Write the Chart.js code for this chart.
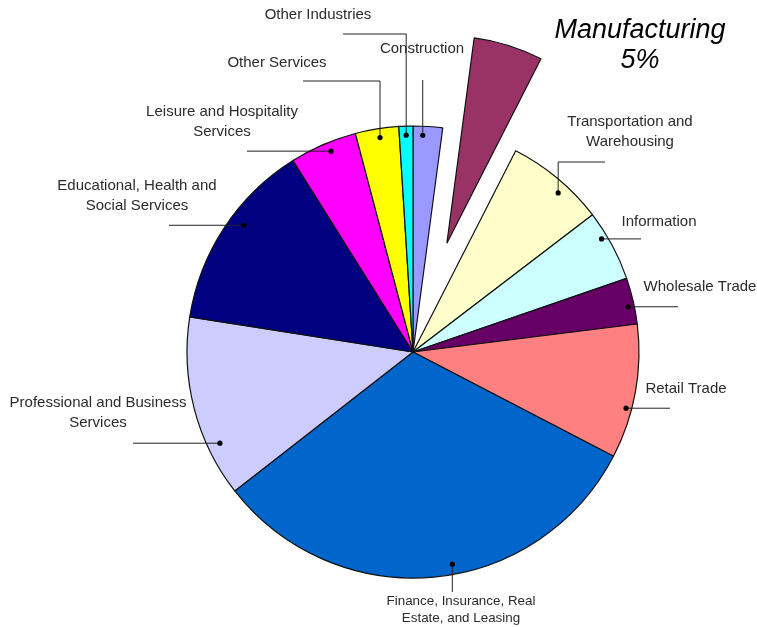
<!DOCTYPE html>
<html>
<head>
<meta charset="utf-8">
<title>Employment by Industry</title>
<script src="https://cdn.jsdelivr.net/npm/chart.js@4/dist/chart.umd.min.js"></script>
<style>
  body { margin: 0; background: #fff; }
  #wrap { width: 757px; height: 627px; }
</style>
</head>
<body>
<div id="wrap"><canvas id="industry-chart" width="757" height="627"></canvas></div>
<script>
// Shares by industry, in drawing order (clockwise from 12 o'clock)
const industries = [
  'Construction',
  'Manufacturing',
  'Transportation and Warehousing',
  'Information',
  'Wholesale Trade',
  'Retail Trade',
  'Finance, Insurance, Real Estate, and Leasing',
  'Professional and Business Services',
  'Educational, Health and Social Services',
  'Leisure and Hospitality Services',
  'Other Services',
  'Other Industries'
];
const shares = [2.1, 5.4, 7.1, 5.1, 3.3, 9.6, 31.8, 13.0, 13.6, 4.8, 3.1, 1.0];
const sliceColors = [
  '#9999FF', '#993366', '#FFFFCC', '#CCFFFF', '#660066', '#FF8080',
  '#0066CC', '#CCCCFF', '#000080', '#FF00FF', '#FFFF00', '#00FFFF'
];
// wrapped label text for each slice (Manufacturing gets the big callout instead)
const labelLines = [
  ['Construction'],
  null,
  ['Transportation and', 'Warehousing'],
  ['Information'],
  ['Wholesale Trade'],
  ['Retail Trade'],
  ['Finance, Insurance, Real', 'Estate, and Leasing'],
  ['Professional and Business', 'Services'],
  ['Educational, Health and', 'Social Services'],
  ['Leisure and Hospitality', 'Services'],
  ['Other Services'],
  ['Other Industries']
];

const explodedIndex = 1;
const explodeDistance = 114;
const explodedRadius = 207;

// where each label sits and how its leader runs
// along/depth place the dot inside the slice, path = leg endpoints from the dot
const calloutLayout = [
  { text: [422, 49], along: 0.34, depth: 0.96, path: [{ y: 80 }] },
  null,
  { text: [630, 122], along: 0.6, depth: 0.953, path: [{ y: 162 }, { x: 605 }] },
  { text: [659, 222], along: 0.35, depth: 0.973, path: [{ x: 641 }] },
  { text: [700, 287], along: 0.6, depth: 0.973, path: [{ x: 678 }] },
  { text: [686, 389], along: 0.633, depth: 0.975, path: [{ x: 670 }] },
  { text: [461, 601], along: 0.454, depth: 0.955, path: [{ y: 592 }], size: 13.4, lead: 17 },
  { text: [98, 403], along: 0.27, depth: 0.945, path: [{ x: 133 }] },
  { text: [137, 186], along: 0.57, depth: 0.935, path: [{ x: 169 }] },
  { text: [222, 112], along: 0.57, depth: 0.96, path: [{ x: 247 }] },
  { text: [277, 63], along: 0.54, depth: 0.96, path: [{ y: 81 }, { x: 303 }] },
  { text: [318, 15], along: 0.5, depth: 0.96, path: [{ y: 34 }, { x: 343 }] }
];

// pull the Manufacturing slice out of the pie (it is also drawn a bit smaller)
const explodePlugin = {
  id: 'explode',
  afterDatasetsUpdate(chart) {
    const arc = chart.getDatasetMeta(0).data[explodedIndex];
    const mid = (arc.startAngle + arc.endAngle) / 2;
    arc.x += Math.cos(mid) * explodeDistance;
    arc.y += Math.sin(mid) * explodeDistance;
    arc.outerRadius = explodedRadius;
  }
};

const calloutPlugin = {
  id: 'callouts',
  afterDatasetsDraw(chart) {
    const ctx = chart.ctx;
    const meta = chart.getDatasetMeta(0);
    ctx.save();

    calloutLayout.forEach((c, i) => {
      if (!c) return;
      const arc = meta.data[i];
      const angle = arc.startAngle + (arc.endAngle - arc.startAngle) * c.along;
      const r = arc.outerRadius * c.depth;
      let x = arc.x + Math.cos(angle) * r;
      let y = arc.y + Math.sin(angle) * r;

      ctx.strokeStyle = '#222';
      ctx.lineWidth = 1;
      ctx.beginPath();
      ctx.moveTo(x, y);
      c.path.forEach(p => {
        if (p.x !== undefined) x = p.x;
        if (p.y !== undefined) y = p.y;
        ctx.lineTo(x, y);
      });
      ctx.stroke();

      ctx.fillStyle = '#000';
      ctx.beginPath();
      ctx.arc(arc.x + Math.cos(angle) * r, arc.y + Math.sin(angle) * r, 2.6, 0, Math.PI * 2);
      ctx.fill();

      ctx.fillStyle = '#2b2b2b';
      ctx.font = (c.size || 15) + 'px "Liberation Sans", Arial, sans-serif';
      ctx.textAlign = 'center';
      ctx.textBaseline = 'middle';
      labelLines[i].forEach((line, k) => {
        ctx.fillText(line, c.text[0], c.text[1] + k * (c.lead || 20));
      });
    });

    // big italic callout for the exploded slice
    const total = shares.reduce((a, b) => a + b, 0);
    const pct = Math.round(shares[explodedIndex] / total * 100) + '%';
    ctx.fillStyle = '#000';
    ctx.font = 'italic 27px "Liberation Sans", Arial, sans-serif';
    ctx.textAlign = 'center';
    ctx.textBaseline = 'alphabetic';
    ctx.fillText(industries[explodedIndex], 640, 38);
    ctx.fillText(pct, 640, 68);

    ctx.restore();
  }
};

const ctx = document.getElementById('industry-chart').getContext('2d');
const chart = new Chart(ctx, {
  type: 'pie',
  data: {
    labels: industries,
    datasets: [{
      data: shares,
      backgroundColor: sliceColors,
      borderColor: '#111',
      borderWidth: 1.2
    }]
  },
  options: {
    responsive: false,
    animation: false,
    events: [],
    radius: 226,
    rotation: 0,
    layout: {
      padding: { left: 69, right: 0, top: 77, bottom: 0 }
    },
    plugins: {
      legend: { display: false },
      tooltip: { enabled: false }
    }
  },
  plugins: [explodePlugin, calloutPlugin]
});
</script>
</body>
</html>
